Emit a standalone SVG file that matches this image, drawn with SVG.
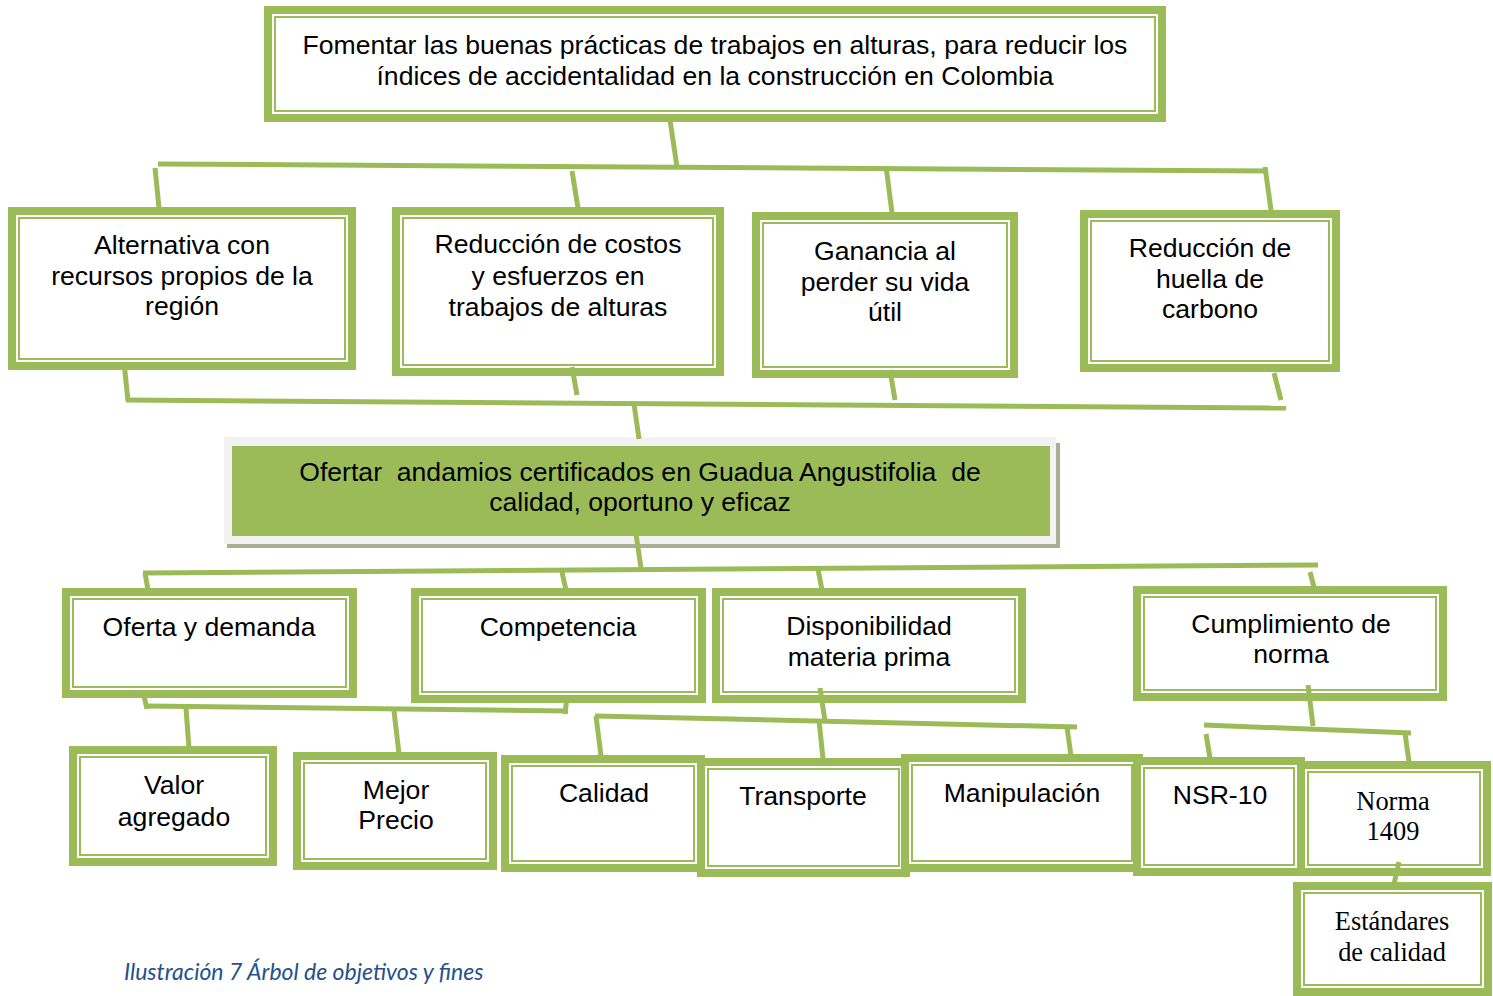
<svg xmlns="http://www.w3.org/2000/svg" width="1493" height="996" viewBox="0 0 1493 996">
<style>
.o{fill:#fff;stroke:#9bbb59;stroke-width:8}
.i{fill:none;stroke:#9bbb59;stroke-width:2}
.t{font-family:"Liberation Sans",Arial,sans-serif;font-size:26.6px;fill:#000;text-anchor:middle}
.s{font-family:"Liberation Serif","Times New Roman",serif;font-size:26.4px;fill:#000;text-anchor:middle}
.c{stroke:#9bbb59;stroke-width:5;fill:none;stroke-linecap:butt}
.cap{font-family:Lato,"Open Sans",sans-serif;font-style:italic;font-size:23px;fill:#25508c}
</style>
<rect width="1493" height="996" fill="#fff"/>
<g id="goal">
<rect class="o" x="268" y="10" width="894" height="108"/><rect class="i" x="275" y="17" width="880" height="94"/>
<text class="t" x="715" y="54">Fomentar las buenas prácticas de trabajos en alturas, para reducir los</text>
<text class="t" x="715" y="85">índices de accidentalidad en la construcción en Colombia</text>
</g>
<g id="fin1">
<rect class="o" x="12" y="211" width="340" height="155"/><rect class="i" x="19" y="218" width="326" height="141"/>
<text class="t" x="182" y="254">Alternativa con</text><text class="t" x="182" y="285">recursos propios de la</text><text class="t" x="182" y="315">región</text>
</g>
<g id="fin2">
<rect class="o" x="396" y="211" width="324" height="161"/><rect class="i" x="403" y="218" width="310" height="147"/>
<text class="t" x="558" y="253">Reducción de costos</text><text class="t" x="558" y="285">y esfuerzos en</text><text class="t" x="558" y="316">trabajos de alturas</text>
</g>
<g id="fin3">
<rect class="o" x="756" y="216" width="258" height="158"/><rect class="i" x="763" y="223" width="244" height="144"/>
<text class="t" x="885" y="260">Ganancia al</text><text class="t" x="885" y="291">perder su vida</text><text class="t" x="885" y="321">útil</text>
</g>
<g id="fin4">
<rect class="o" x="1084" y="214" width="252" height="154"/><rect class="i" x="1091" y="221" width="238" height="140"/>
<text class="t" x="1210" y="257">Reducción de</text><text class="t" x="1210" y="288">huella de</text><text class="t" x="1210" y="318">carbono</text>
</g>
<g id="objective">
<rect x="227" y="443" width="833" height="105" fill="#a8af93"/>
<rect x="224" y="437" width="832" height="107" fill="#f2f2f2"/>
<rect x="232" y="446" width="818" height="90" fill="#9bbb59"/>
<text class="t" x="640" y="481" xml:space="preserve">Ofertar  andamios certificados en Guadua Angustifolia  de</text>
<text class="t" x="640" y="511">calidad, oportuno y eficaz</text>
</g>
<g id="oferta">
<rect class="o" x="66" y="592" width="287" height="102"/><rect class="i" x="73" y="599" width="273" height="88"/>
<text class="t" x="209" y="636">Oferta y demanda</text>
</g>
<g id="competencia">
<rect class="o" x="415" y="592" width="287" height="107"/><rect class="i" x="422" y="599" width="273" height="93"/>
<text class="t" x="558" y="636">Competencia</text>
</g>
<g id="disponibilidad">
<rect class="o" x="716" y="592" width="306" height="107"/><rect class="i" x="723" y="599" width="292" height="93"/>
<text class="t" x="869" y="635">Disponibilidad</text><text class="t" x="869" y="666">materia prima</text>
</g>
<g id="cumplimiento">
<rect class="o" x="1137" y="590" width="306" height="107"/><rect class="i" x="1144" y="597" width="292" height="93"/>
<text class="t" x="1291" y="633">Cumplimiento de</text><text class="t" x="1291" y="663">norma</text>
</g>
<g id="valor">
<rect class="o" x="73" y="750" width="200" height="112"/><rect class="i" x="80" y="757" width="186" height="98"/>
<text class="t" x="174" y="794">Valor</text><text class="t" x="174" y="826">agregado</text>
</g>
<g id="mejor">
<rect class="o" x="297" y="756" width="196" height="110"/><rect class="i" x="304" y="763" width="182" height="96"/>
<text class="t" x="396" y="799">Mejor</text><text class="t" x="396" y="829">Precio</text>
</g>
<g id="calidad">
<rect class="o" x="505" y="759" width="196" height="109"/><rect class="i" x="512" y="766" width="182" height="95"/>
<text class="t" x="604" y="802">Calidad</text>
</g>
<g id="transporte">
<rect class="o" x="701" y="762" width="205" height="111"/><rect class="i" x="708" y="769" width="191" height="97"/>
<text class="t" x="803" y="805">Transporte</text>
</g>
<g id="manipulacion">
<rect class="o" x="905" y="758" width="234" height="110"/><rect class="i" x="912" y="765" width="220" height="96"/>
<text class="t" x="1022" y="802">Manipulación</text>
</g>
<g id="nsr">
<rect class="o" x="1137" y="761" width="164" height="111"/><rect class="i" x="1144" y="768" width="150" height="97"/>
<text class="t" x="1220" y="804">NSR-10</text>
</g>
<g id="norma">
<rect class="o" x="1301" y="765" width="186" height="107"/><rect class="i" x="1308" y="772" width="172" height="93"/>
<text class="s" x="1393" y="810">Norma</text><text class="s" x="1393" y="840">1409</text>
</g>
<g id="estandares">
<rect class="o" x="1297" y="886" width="191" height="106"/><rect class="i" x="1304" y="893" width="177" height="92"/>
<text class="s" x="1392" y="930">Estándares</text><text class="s" x="1392" y="961">de calidad</text>
</g>
<g id="connectors">
<path class="c" d="M670,120 L677,167"/>
<path class="c" d="M158,164 L1268,171"/>
<path class="c" d="M155,168 L159,208"/>
<path class="c" d="M572,171 L578,208"/>
<path class="c" d="M886,166 L892,213"/>
<path class="c" d="M1265,167 L1271,210"/>
<path class="c" d="M124,362 L128,401"/>
<path class="c" d="M572,367 L577,395"/>
<path class="c" d="M890,370 L895,400"/>
<path class="c" d="M1274,373 L1281,400"/>
<path class="c" d="M126,400 L1286,408"/>
<path class="c" d="M634,404 L639,439"/>
<path class="c" d="M636,534 L641,568"/>
<path class="c" d="M143,573 L1318,565"/>
<path class="c" d="M145,573 L148,590"/>
<path class="c" d="M562,572 L566,590"/>
<path class="c" d="M818,569 L822,590"/>
<path class="c" d="M1310,572 L1314,587"/>
<path class="c" d="M144,696 L147,709"/>
<path class="c" d="M145,706 L568,711"/>
<path class="c" d="M567,696 L565,714"/>
<path class="c" d="M186,708 L189,749"/>
<path class="c" d="M394,711 L399,754"/>
<path class="c" d="M820,688 L825,721"/>
<path class="c" d="M595,716 L1077,727"/>
<path class="c" d="M596,716 L601,756"/>
<path class="c" d="M819,720 L823,759"/>
<path class="c" d="M1067,727 L1071,756"/>
<path class="c" d="M1308,685 L1313,726"/>
<path class="c" d="M1204,725 L1411,733"/>
<path class="c" d="M1206,734 L1210,758"/>
<path class="c" d="M1405,733 L1409,762"/>
<path class="c" d="M1399,862 L1394,884"/>
</g>
<text class="cap" x="124" y="980">Ilustración 7 Árbol de objetivos y fines</text>
</svg>
